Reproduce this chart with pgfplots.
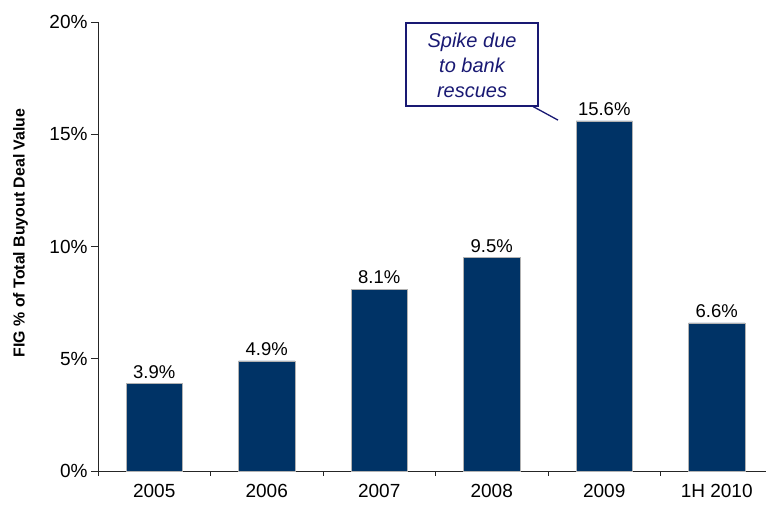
\documentclass[border=0pt]{standalone}
\usepackage{pgfplots}
\pgfplotsset{compat=1.18}
\usepackage{fontspec}
\setmainfont{Liberation Sans}
\definecolor{barblue}{RGB}{0,51,102}
\definecolor{annot}{RGB}{25,25,115}
\begin{document}
\begin{tikzpicture}
\path[use as bounding box] (0,0) rectangle (766pt,506pt);
\begin{axis}[
  at={(98pt,35pt)}, anchor=south west,
  scale only axis, width=668pt, height=449pt,
  xmin=-0.5, xmax=5.438, ymin=0, ymax=20,
  axis x line=bottom, axis y line=left,
  axis line style={-, line width=0.8pt, black!85},
  ytick={0,5,10,15,20},
  yticklabel={\pgfmathprintnumber{\tick}\%},
  xtick={0,1,2,3,4,5},
  xticklabels={2005,2006,2007,2008,2009,1H 2010},
  minor xtick={-0.5,0.5,1.5,2.5,3.5,4.5},
  tick align=outside,
  major tick length=7pt, minor tick length=5pt,
  major x tick style={draw=none},
  tick style={line width=0.8pt, black!85},
  /pgf/number format/assume math mode=true,
  tick label style={font=\fontsize{19}{22}\selectfont},
  yticklabel style={xshift=0pt},
  xticklabel style={yshift=-3pt},
  ylabel={\bfseries FIG \% of Total Buyout Deal Value},
  ylabel style={at={(axis description cs:-0.116,0.53)}, anchor=center, font=\fontsize{15.9}{19}\selectfont},
  clip=false,
]
\addplot[ybar, bar width=0.5, bar shift=0pt, fill=barblue, draw=gray!60, line width=0.5pt,
  nodes near coords={\pgfmathprintnumber[fixed,precision=1,fixed zerofill]{\pgfplotspointmeta}\%},
  nodes near coords style={font=\fontsize{18.5}{22}\selectfont, black, /pgf/number format/assume math mode=true, inner sep=5pt}]
  coordinates {(0,3.9) (1,4.9) (2,8.1) (3,9.5) (4,15.6) (5,6.6)};
\draw[annot, line width=1.3pt] (axis cs:2.238,16.26) rectangle (axis cs:3.411,19.96);
\draw[annot, line width=1.3pt] (axis cs:3.358,16.26) -- (axis cs:3.589,15.63);
\node[annot, align=center, font=\fontsize{20}{25}\selectfont\itshape] at (axis cs:2.825,18.08) {Spike due\\to bank\\rescues};
\end{axis}
\end{tikzpicture}
\end{document}
